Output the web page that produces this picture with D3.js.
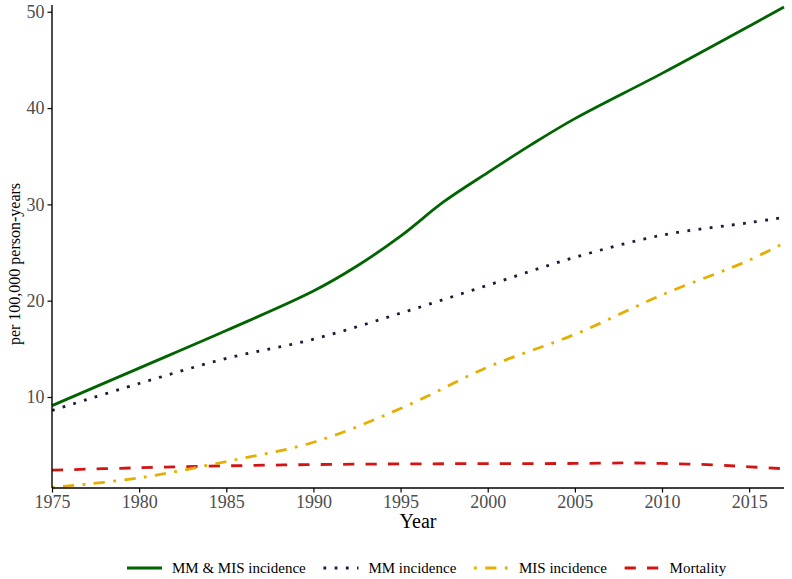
<!DOCTYPE html>
<html>
<head>
<meta charset="utf-8">
<script src="https://cdn.jsdelivr.net/npm/d3@7"></script>
<style>
  html, body { margin: 0; padding: 0; background: #fff; }
  svg { display: block; font-family: "Liberation Serif", "Times New Roman", serif; }
</style>
</head>
<body>
<svg id="chart" width="792" height="579"></svg>
<script>
// ---- data ----
const seriesNames = ["MM & MIS incidence", "MM incidence", "MIS incidence", "Mortality"];

const yearsBoth = [1975, 1980, 1985, 1990, 1992.5, 1995, 1997.5, 2000, 2002.5, 2005, 2010, 2015, 2017];
const valuesBoth = [9.1, 13.0, 16.9, 21.0, 23.6, 26.7, 30.3, 33.3, 36.2, 38.9, 43.6, 48.5, 50.5];

const yearsMM = [1975, 1980, 1985, 1990, 1995, 2000, 2005, 2010, 2015, 2017];
const valuesMM = [8.6, 11.4, 14.0, 16.0, 18.7, 21.6, 24.5, 26.8, 28.1, 28.65];

const yearsMIS = [1975, 1980, 1985, 1990, 1995, 2000, 2005, 2010, 2015, 2017];
const valuesMIS = [0.6, 1.6, 3.3, 5.3, 8.8, 13.1, 16.5, 20.6, 24.2, 26.0];

const yearsMort = [1975, 1980, 1985, 1990, 1995, 2000, 2005, 2008, 2010, 2013, 2015, 2017];
const valuesMort = [2.4, 2.65, 2.85, 2.98, 3.05, 3.08, 3.1, 3.15, 3.1, 2.95, 2.75, 2.55];

const xTicks = [1975, 1980, 1985, 1990, 1995, 2000, 2005, 2010, 2015];
const yTicks = [10, 20, 30, 40, 50];

const colors = ["#006400", "#1a1a3a", "#E5AE00", "#D21414"];

// ---- layout ----
const svg = d3.select("#chart");
const W = 792, H = 579;
const plot = { left: 52, right: 784, top: 5, bottom: 488 };

svg.append("rect").attr("width", W).attr("height", H).attr("fill", "#fff");

const x = d3.scaleLinear().domain([1975, 2017]).range([plot.left, plot.right]);
const y = d3.scaleLinear().domain([0.55, 50.7]).range([plot.bottom, plot.top]);

const lw = 2.8;
const styles = [
  { dash: null },
  { dash: [lw * 1, lw * 3].join(",") },
  { dash: [lw * 1, lw * 3, lw * 4, lw * 3].join(",") },
  { dash: [lw * 4, lw * 4].join(",") }
];

const series = [
  yearsBoth.map((yr, i) => ({ x: yr, y: valuesBoth[i] })),
  yearsMM.map((yr, i) => ({ x: yr, y: valuesMM[i] })),
  yearsMIS.map((yr, i) => ({ x: yr, y: valuesMIS[i] })),
  yearsMort.map((yr, i) => ({ x: yr, y: valuesMort[i] }))
];

const line = d3.line().x(d => x(d.x)).y(d => y(d.y)).curve(d3.curveCatmullRom.alpha(0.5));

const drawOrder = [3, 2, 1, 0];
drawOrder.forEach(i => {
  svg.append("path")
    .datum(series[i])
    .attr("fill", "none")
    .attr("stroke", colors[i])
    .attr("stroke-width", lw)
    .attr("stroke-linecap", "butt")
    .attr("stroke-dasharray", styles[i].dash)
    .attr("d", line);
});

// ---- axes ----
const xAxis = d3.axisBottom(x).tickValues(xTicks).tickFormat(d3.format("d")).tickSizeOuter(0).tickSize(4.5).tickPadding(3);
const yAxis = d3.axisLeft(y).tickValues(yTicks).tickSizeOuter(0).tickSize(4.5).tickPadding(3);

const gx = svg.append("g").attr("transform", `translate(0,${plot.bottom})`).call(xAxis);
const gy = svg.append("g").attr("transform", `translate(${plot.left},0)`).call(yAxis);

[gx, gy].forEach(g => {
  g.select(".domain").attr("stroke", "#000").attr("stroke-width", 1.4);
  g.selectAll(".tick line").attr("stroke", "#000").attr("stroke-width", 1.2);
  g.selectAll(".tick text")
    .attr("fill", "#4D4D4D")
    .style("font-family", '"Liberation Serif", "Times New Roman", serif')
    .style("font-size", "18px");
});
gx.select(".domain").attr("d", `M${plot.left},0H${plot.right}`);
gy.select(".domain").attr("d", `M0,${plot.top}V${plot.bottom}`);

// axis titles
svg.append("text")
  .attr("x", (plot.left + plot.right) / 2)
  .attr("y", 528)
  .attr("text-anchor", "middle")
  .style("font-size", "20px")
  .attr("fill", "#000")
  .text("Year");

svg.append("text")
  .attr("transform", `translate(20,264) rotate(-90)`)
  .attr("text-anchor", "middle")
  .style("font-size", "16px")
  .attr("fill", "#000")
  .text("per 100,000 person-years");

// ---- legend ----
const legY = 568;
const keyLen = 35, keyGap = 10, itemGap = 17.7;
const leg = svg.append("g");
let cx = 127;
seriesNames.forEach((name, i) => {
  leg.append("line")
    .attr("x1", cx).attr("x2", cx + keyLen)
    .attr("y1", legY).attr("y2", legY)
    .attr("stroke", colors[i])
    .attr("stroke-width", lw)
    .attr("stroke-linecap", "butt")
    .attr("stroke-dasharray", styles[i].dash);
  cx += keyLen + keyGap;
  const t = leg.append("text")
    .attr("x", cx).attr("y", legY + 5)
    .style("font-size", "15px")
    .attr("fill", "#000")
    .text(name);
  cx += t.node().getComputedTextLength() + itemGap;
});
</script>
</body>
</html>
